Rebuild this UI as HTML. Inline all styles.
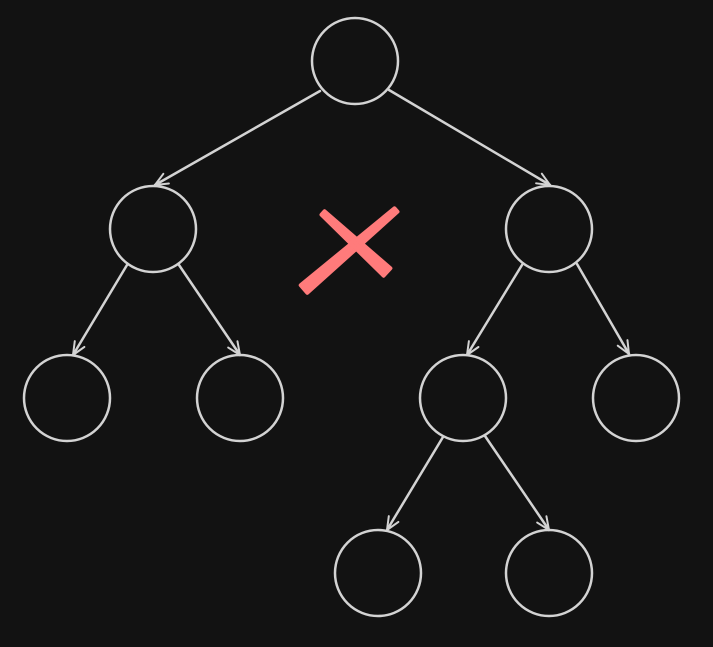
<!DOCTYPE html>
<html><head><meta charset="utf-8"><style>
html,body{margin:0;padding:0;background:#121212;}
svg{display:block}
</style></head><body>
<svg width="713" height="647" viewBox="0 0 713 647" xmlns="http://www.w3.org/2000/svg">
<defs>
<marker id="a" viewBox="0 0 20 20" refX="18" refY="10" markerWidth="16" markerHeight="16" orient="auto" markerUnits="userSpaceOnUse">
<polyline points="2,3 18,10 2,17" fill="none" stroke="#d3d3d3" stroke-width="2.5" stroke-linecap="round" stroke-linejoin="round"/>
</marker>
</defs>
<g fill="none" stroke="#d3d3d3" stroke-width="2.5" stroke-linecap="round">
<circle cx="355" cy="61" r="43"/>
<circle cx="153" cy="229" r="43"/>
<circle cx="549" cy="229" r="43"/>
<circle cx="67" cy="398" r="43"/>
<circle cx="240" cy="398" r="43"/>
<circle cx="463" cy="398" r="43"/>
<circle cx="636" cy="398" r="43"/>
<circle cx="378" cy="573" r="43"/>
<circle cx="549" cy="573" r="43"/>
<line x1="320" y1="91" x2="155" y2="185" marker-end="url(#a)"/>
<line x1="389" y1="90" x2="550" y2="185" marker-end="url(#a)"/>
<line x1="127" y1="265" x2="73" y2="355" marker-end="url(#a)"/>
<line x1="179" y1="265" x2="240" y2="355" marker-end="url(#a)"/>
<line x1="522" y1="265" x2="467" y2="355" marker-end="url(#a)"/>
<line x1="577" y1="264" x2="629" y2="354" marker-end="url(#a)"/>
<line x1="443" y1="437" x2="387" y2="530" marker-end="url(#a)"/>
<line x1="485" y1="436" x2="549" y2="530" marker-end="url(#a)"/>
</g>
<g fill="#ff7b7b" stroke="#ff7b7b" stroke-width="4" stroke-linejoin="round">
<polygon points="307.3,292.8 300.7,285.2 394.5,208.3 397.5,211.7"/>
<polygon points="321.5,214.7 324.5,211.3 390.4,268.3 383.6,275.7"/>
</g>
</svg>
</body></html>
